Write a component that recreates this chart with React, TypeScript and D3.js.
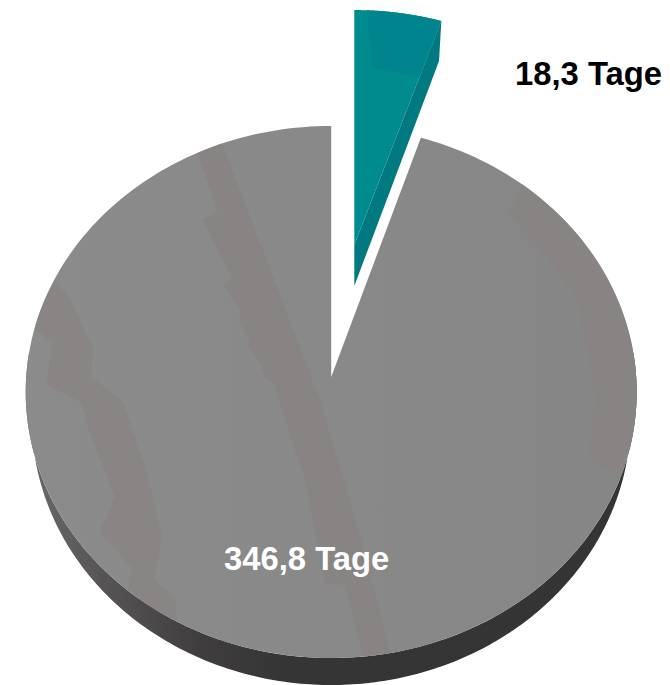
import React from "react";
import * as d3 from "d3";

// Days per category, in drawing order (clockwise from twelve o'clock)
const categories = ["Ausgefallen", "Verfügbar"];
const days = [18.3, 346.8];
const dayLabels = ["18,3 Tage", "346,8 Tage"];

const WIDTH = 670;
const HEIGHT = 685;
const FONT = "'Liberation Sans', Arial, sans-serif";

// Tilted disc: a unit circle seen in perspective around its apex
const TILT = -0.0564;
const discFrame = { x: 331.2, y: 377, rx: 305, ry: 265.2 };
const wedgeFrame = { x: 354.3, y: 245, rx: 296, ry: 248.2 };

type Frame = typeof discFrame;
type Pt = [number, number];

const project = (f: Frame, angle: number, radius = 1): Pt => {
  const u = Math.sin(angle) * radius;
  const v = -Math.cos(angle) * radius;
  const w = 1 + TILT * v;
  return [f.x + (f.rx * u) / w, f.y + (f.ry * v) / w];
};

const line = d3.line<Pt>();
const arcPoints = (f: Frame, a0: number, a1: number, steps = 240): Pt[] =>
  d3.range(steps + 1).map((i) => project(f, a0 + ((a1 - a0) * i) / steps));

const sectorPath = (f: Frame, a0: number, a1: number) =>
  line([[f.x, f.y], ...arcPoints(f, a0, a1)]) + "Z";

// Side wall of the disc: upper rim forward, lower rim back
const WALL_DROP = 27;
const WALL_SHRINK = 0.98;
const wallPath = () => {
  const upper = arcPoints(discFrame, Math.PI * 0.47, Math.PI * 1.53);
  const lower = upper
    .map(([x, y]): Pt => [
      discFrame.x + (x - discFrame.x) * WALL_SHRINK,
      y + WALL_DROP,
    ])
    .reverse();
  return line([...upper, ...lower]) + "Z";
};

// Faint warm facets in the grey surface
const greyFacets: Pt[][] = [
  [
    [197, 153], [218, 210], [203, 220], [232, 278], [224, 287], [242, 313],
    [238, 320], [250, 340], [248, 345], [260, 363], [265, 377], [275, 385],
    [282, 410], [295, 450], [305, 478], [325, 583], [346, 585], [366, 670],
    [394, 670], [359, 533], [320, 400], [217, 130], [190, 130],
  ],
  [
    [55, 280], [30, 325], [52, 342], [47, 385], [81, 402], [90, 433],
    [115, 497], [100, 532], [132, 568], [128, 590], [178, 630], [175, 597],
    [154, 580], [162, 537], [147, 473], [122, 400], [91, 377], [93, 347],
    [70, 300],
  ],
  [
    [524, 180], [510, 215], [545, 255], [578, 300], [596, 400], [588, 458],
    [625, 482], [660, 450], [660, 240], [590, 180],
  ],
];

const wedgeFacet: Pt[] = [
  [366, 0], [372, 68], [420, 77], [450, 20], [450, 0],
];

export default function App() {
  const slices = d3.pie<number>().sort(null)(days);
  const [wedge, rest] = slices;
  const discPath = sectorPath(discFrame, rest.startAngle, rest.endAngle);
  const wedgeTop = sectorPath(wedgeFrame, wedge.startAngle, wedge.endAngle);
  const edgeTop = project(wedgeFrame, wedge.endAngle);
  const wedgeWall: Pt[] = [
    [wedgeFrame.x, wedgeFrame.y],
    edgeTop,
    [edgeTop[0] - 2.3, edgeTop[1] + 40],
    [wedgeFrame.x, wedgeFrame.y + 41],
  ];

  return (
    <svg
      width={WIDTH}
      height={HEIGHT}
      viewBox={`0 0 ${WIDTH} ${HEIGHT}`}
      style={{ position: "absolute", left: 0, top: 0, background: "#fff" }}
    >
      <defs>
        <linearGradient id="wallShade" gradientUnits="userSpaceOnUse" x1="30" x2="640" y1="0" y2="0">
          <stop offset="0" stopColor="#6a6868" />
          <stop offset="0.12" stopColor="#565454" />
          <stop offset="0.28" stopColor="#3f3d3d" />
          <stop offset="0.42" stopColor="#363535" />
          <stop offset="1" stopColor="#343434" />
        </linearGradient>
        <linearGradient id="greyShade" gradientUnits="userSpaceOnUse" x1="30" x2="640" y1="0" y2="0">
          <stop offset="0" stopColor="#8b8b8b" />
          <stop offset="1" stopColor="#868686" />
        </linearGradient>
        <clipPath id="discClip">
          <path d={discPath} />
        </clipPath>
        <clipPath id="wedgeClip">
          <path d={wedgeTop} />
        </clipPath>
      </defs>

      <g aria-label={categories[1]}>
        <path d={wallPath()} fill="url(#wallShade)" />
        <path d={discPath} fill="url(#greyShade)" />
        <g clipPath="url(#discClip)">
          {greyFacets.map((f, i) => (
            <path key={i} d={line(f) + "Z"} fill="#878381" opacity={0.75} />
          ))}
        </g>
      </g>

      <g aria-label={categories[0]}>
        <path d={line(wedgeWall) + "Z"} fill="#007a80" />
        <path d={wedgeTop} fill="#008b8f" />
        <path d={line(wedgeFacet) + "Z"} fill="#00858f" clipPath="url(#wedgeClip)" />
      </g>

      <g fontFamily={FONT} fontWeight="bold" fontSize={32.8}>
        <text x={515} y={85} fill="#000">{dayLabels[0]}</text>
        <text x={224} y={570} fill="#fff">{dayLabels[1]}</text>
      </g>
    </svg>
  );
}
